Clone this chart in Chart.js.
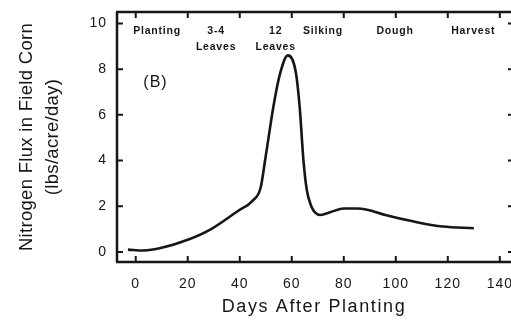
<!DOCTYPE html>
<html>
<head>
<meta charset="utf-8">
<script src="https://cdn.jsdelivr.net/npm/chart.js@4.4.1/dist/chart.umd.min.js"></script>
<style>
  html, body { margin: 0; padding: 0; background: #fff; }
</style>
</head>
<body>
<canvas id="chart-nflux" width="511" height="322"></canvas>
<script>
// values
const days  = [-3, 3, 10, 20, 29, 39, 45, 48, 50, 53, 55.5, 58.5, 61.5, 63, 64.5, 65.8, 67.5, 69, 71, 75, 80, 85, 89, 96, 107, 118, 130];
const nFlux = [0.1, 0.06, 0.18, 0.53, 1.0, 1.77, 2.25, 2.8, 4.2, 6.4, 7.8, 8.6, 7.9, 6.4, 4.0, 2.7, 2.0, 1.72, 1.62, 1.75, 1.9, 1.9, 1.85, 1.62, 1.33, 1.11, 1.04];
const xTicks = [0, 20, 40, 60, 80, 100, 120, 140];
const yTicks = [0, 2, 4, 6, 8, 10];
const stageNames = [['Planting'], ['3-4', 'Leaves'], ['12', 'Leaves'], ['Silking'], ['Dough'], ['Harvest']];
const stageDays = [8.2, 30.9, 53.8, 72, 99.7, 129.8];
const panelLabel = '(B)';

const ink = '#161616';
const fam = '"Liberation Sans", Arial, Helvetica, sans-serif';

// the scan's lettering is wider than Arial, so space it out a bit
function spaceOut(scale, labelsSp, titleSp) {
  if (scale._spaced) return;
  scale._spaced = true;
  [['drawLabels', labelsSp], ['drawTitle', titleSp]].forEach(([m, sp]) => {
    const orig = scale[m];
    scale[m] = function (...args) {
      this.ctx.save();
      this.ctx.letterSpacing = sp;
      orig.apply(this, args);
      this.ctx.restore();
    };
  });
}

// box with inward ticks + stage names along the top
const framePlugin = {
  id: 'frame',
  afterDraw(chart) {
    const {ctx, chartArea: a, scales: {x, y}} = chart;
    const W = chart.width;
    ctx.save();
    ctx.strokeStyle = ink;
    ctx.lineWidth = 2.5;
    ctx.beginPath();
    ctx.moveTo(a.left, a.top); ctx.lineTo(a.left, a.bottom);
    ctx.moveTo(a.left - 1, a.bottom); ctx.lineTo(W, a.bottom);
    ctx.moveTo(a.left - 1, a.top); ctx.lineTo(W, a.top);
    ctx.stroke();

    ctx.lineWidth = 2;
    ctx.beginPath();
    xTicks.forEach(v => {
      const px = x.getPixelForValue(v);
      ctx.moveTo(px, a.bottom); ctx.lineTo(px, a.bottom - 6);
      ctx.moveTo(px, a.top); ctx.lineTo(px, a.top + 6);
    });
    yTicks.forEach(v => {
      const py = y.getPixelForValue(v);
      ctx.moveTo(a.left, py); ctx.lineTo(a.left + 6, py);
      ctx.moveTo(W, py); ctx.lineTo(W - 3, py);
    });
    ctx.stroke();

    ctx.fillStyle = ink;
    ctx.font = 'bold 10.5px ' + fam;
    ctx.letterSpacing = '0.8px';
    ctx.textAlign = 'center';
    ctx.textBaseline = 'middle';
    const top = y.getPixelForValue(9.65);
    stageNames.forEach((lines, i) => {
      const px = x.getPixelForValue(stageDays[i]);
      lines.forEach((t, j) => ctx.fillText(t, px, top + j * 15.5));
    });

    ctx.letterSpacing = '1px';
    ctx.font = '16px ' + fam;
    ctx.fillText(panelLabel, x.getPixelForValue(7.6), y.getPixelForValue(7.4));
    ctx.restore();
  }
};

const ctx1 = document.getElementById('chart-nflux').getContext('2d');
new Chart(ctx1, {
  type: 'line',
  data: {
    datasets: [{
      data: days.map((d, i) => ({x: d, y: nFlux[i]})),
      borderColor: ink,
      borderWidth: 2.6,
      pointRadius: 0,
      cubicInterpolationMode: 'monotone',
      fill: false
    }]
  },
  options: {
    responsive: false,
    devicePixelRatio: 1,
    animation: false,
    layout: { padding: { top: 12, right: 0, bottom: 0, left: 0 } },
    plugins: { legend: { display: false }, tooltip: { enabled: false } },
    scales: {
      x: {
        type: 'linear',
        min: -7.2,
        max: 144.3,
        afterBuildTicks: s => { s.ticks = xTicks.map(v => ({value: v})); },
        afterFit: s => {
          s.height = 60; s.paddingLeft = 0; s.paddingRight = 0;
          spaceOut(s, '1px', '1.6px');
        },
        grid: { display: false, drawTicks: false },
        border: { display: false },
        ticks: { color: ink, padding: 14, maxRotation: 0, font: { family: fam, size: 14 } },
        title: {
          display: true,
          text: 'Days After Planting',
          color: ink,
          font: { family: fam, size: 18 },
          padding: { top: 0, bottom: 4 }
        }
      },
      y: {
        min: -0.44,
        max: 10.5,
        afterBuildTicks: s => { s.ticks = yTicks.map(v => ({value: v})); },
        afterFit: s => {
          s.width = 117; s.paddingTop = 0; s.paddingBottom = 0;
          spaceOut(s, '1px', '0.3px');
        },
        grid: { display: false, drawTicks: false },
        border: { display: false },
        ticks: { color: ink, padding: 10, font: { family: fam, size: 14 } },
        title: {
          display: true,
          text: ['Nitrogen Flux in Field Corn', '(lbs/acre/day)'],
          color: ink,
          font: { family: fam, size: 18.5, lineHeight: 1.4 },
          padding: { top: 14, bottom: 0 }
        }
      }
    }
  },
  plugins: [framePlugin]
});
</script>
</body>
</html>
